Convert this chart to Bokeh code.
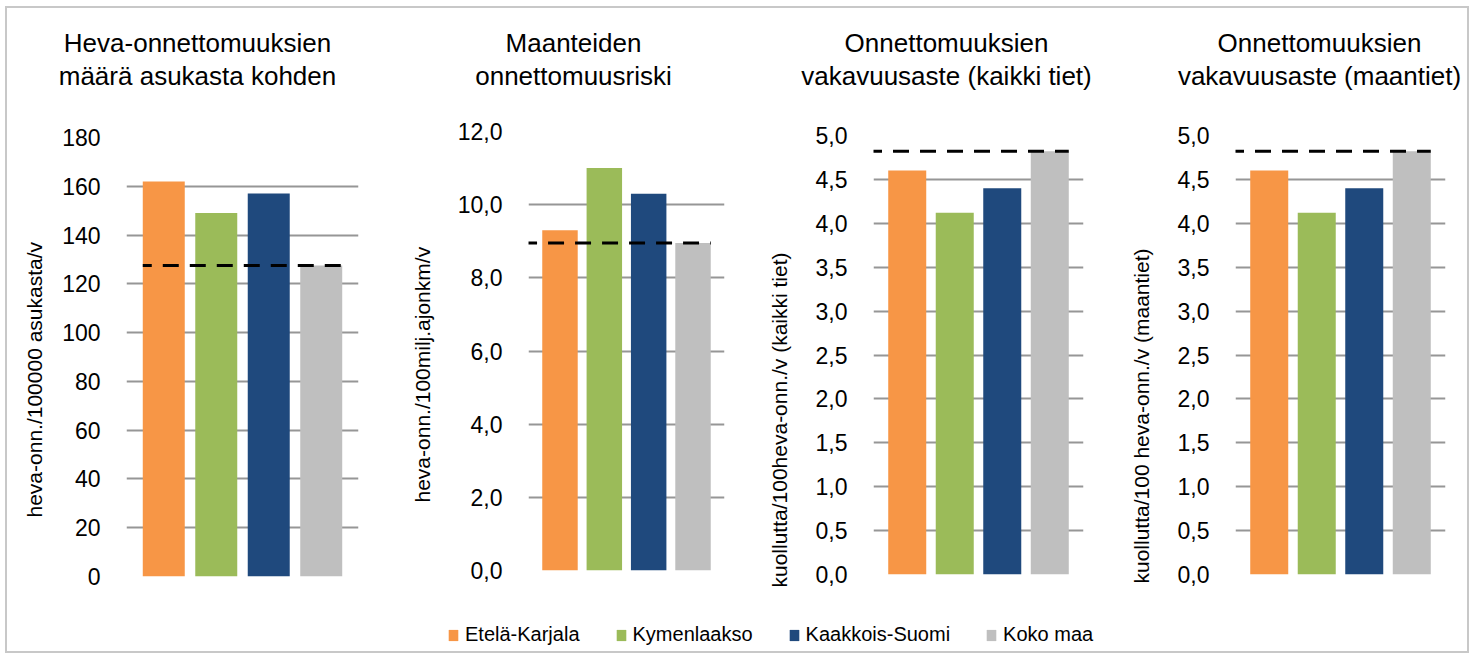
from bokeh.plotting import figure
from bokeh.models import Range1d, FixedTicker, Title, Label, Legend, LegendItem, ColumnDataSource
from bokeh.layouts import row, column
from bokeh.embed import file_html
from bokeh.resources import INLINE

# ---------------- data ----------------
regions = ["Etelä-Karjala", "Kymenlaakso", "Kaakkois-Suomi", "Koko maa"]

heva_per_asukas = [162, 149, 157, 127.5]
riski_maantiet = [9.3, 11.0, 10.3, 8.95]
vakavuus_kaikki = [4.6, 4.12, 4.4, 4.82]
vakavuus_maantiet = [4.6, 4.12, 4.4, 4.82]

titles = [
    ["Heva-onnettomuuksien", "määrä asukasta kohden"],
    ["Maanteiden", "onnettomuusriski"],
    ["Onnettomuuksien", "vakavuusaste (kaikki tiet)"],
    ["Onnettomuuksien", "vakavuusaste (maantiet)"],
]
y_labels = [
    "heva-onn./100000 asukasta/v",
    "heva-onn./100milj.ajonkm/v",
    "kuollutta/100heva-onn./v (kaikki tiet)",
    "kuollutta/100 heva-onn./v (maantiet)",
]
ticks_1 = [0, 20, 40, 60, 80, 100, 120, 140, 160, 180]
tick_labels_1 = ["0", "20", "40", "60", "80", "100", "120", "140", "160", "180"]
ticks_2 = [0, 2, 4, 6, 8, 10, 12]
tick_labels_2 = ["0,0", "2,0", "4,0", "6,0", "8,0", "10,0", "12,0"]
ticks_3 = [0, 0.5, 1, 1.5, 2, 2.5, 3, 3.5, 4, 4.5, 5]
tick_labels_3 = ["0,0", "0,5", "1,0", "1,5", "2,0", "2,5", "3,0", "3,5", "4,0", "4,5", "5,0"]

# ---------------- style / layout ----------------
colors = ["#F79646", "#9BBB59", "#1F497D", "#BFBFBF"]
FONT = "Liberation Sans"
GRID_COLOR = "#969696"

TOTAL_W = 1460
STRIP_H = 100      # title strip
PANEL_H = 497
LEGEND_H = 46
title_centers = [190, 566, 939, 1312]   # px inside title strip
title_baselines = [34, 67]              # px from the strip top

geoms = [
    dict(w=373, bl=118, br=22, bt=29, bb=29, loff=59, ls=27, dx0=-0.40),
    dict(w=360, bl=148, br=16, bt=23, bb=35, loff=68, ls=41, dx0=-0.72),
    dict(w=360, bl=133, br=17, bt=27, bb=31, loff=-13, ls=43, dx0=-0.72),
    dict(w=367, bl=135, br=22, bt=27, bb=31, loff=-9, ls=43, dx0=-0.72),
]


def make_panel(vals, ymax, ticks, tick_labels, ylab, g):
    p = figure(width=g["w"], height=PANEL_H,
               x_range=Range1d(-0.71, 3.71), y_range=Range1d(0, ymax),
               output_backend="svg", toolbar_location=None,
               x_axis_location=None,
               min_border_left=g["bl"], min_border_right=g["br"],
               min_border_top=g["bt"], min_border_bottom=g["bb"])
    if "frame_align" in p.properties():
        p.frame_align = False
    p.outline_line_color = None
    p.xgrid.visible = False
    p.ygrid.ticker = FixedTicker(ticks=ticks)
    p.ygrid.grid_line_color = GRID_COLOR
    p.ygrid.grid_line_width = 2

    ax = p.yaxis[0]
    ax.ticker = FixedTicker(ticks=ticks)
    ax.major_label_overrides = {t: s for t, s in zip(ticks, tick_labels)}
    ax.axis_line_color = None
    ax.major_tick_line_color = None
    ax.minor_tick_line_color = None
    ax.major_tick_out = 0
    ax.major_tick_in = 0
    ax.major_label_standoff = 26
    ax.major_label_text_font = FONT
    ax.major_label_text_font_size = "23px"
    ax.major_label_text_color = "#000000"

    src = ColumnDataSource(dict(x=list(range(len(regions))), top=vals,
                                color=colors, region=regions))
    p.vbar(x="x", top="top", width=0.8, fill_color="color",
           line_color=None, source=src)

    ref = vals[-1]
    p.line(x=[g["dx0"], 3.4], y=[ref, ref], line_color="black",
           line_width=3, line_dash="16 11", line_dash_offset=7)

    # y axis title (rotated, on the left)
    p.add_layout(Title(text=ylab, align="left", offset=g["loff"],
                       vertical_align="bottom", standoff=g["ls"],
                       text_font=FONT, text_font_size="21px",
                       text_font_style="normal", text_color="#000000"), "left")
    return p


p1 = make_panel(heva_per_asukas, 180, ticks_1, tick_labels_1, y_labels[0], geoms[0])
p2 = make_panel(riski_maantiet, 12, ticks_2, tick_labels_2, y_labels[1], geoms[1])
p3 = make_panel(vakavuus_kaikki, 5, ticks_3, tick_labels_3, y_labels[2], geoms[2])
p4 = make_panel(vakavuus_maantiet, 5, ticks_3, tick_labels_3, y_labels[3], geoms[3])

# title strip
ts = figure(width=TOTAL_W, height=STRIP_H, x_range=Range1d(0, TOTAL_W),
            y_range=Range1d(0, STRIP_H), x_axis_location=None, y_axis_location=None,
            toolbar_location=None, output_backend="svg", min_border=0)
ts.outline_line_color = None
ts.grid.visible = False
for cx, lines in zip(title_centers, titles):
    for line, base in zip(lines, title_baselines):
        ts.add_layout(Label(x=cx, y=STRIP_H - base, text=line,
                            text_align="center", text_baseline="alphabetic",
                            text_font=FONT, text_font_size="26px",
                            text_color="#000000"))

# legend strip
lf = figure(width=TOTAL_W, height=LEGEND_H, x_range=Range1d(0, 1), y_range=Range1d(0, 1),
            x_axis_location=None, y_axis_location=None, toolbar_location=None,
            output_backend="svg", min_border=0)
lf.outline_line_color = None
lf.grid.visible = False
items = []
for name, c in zip(regions, colors):
    # drawn outside the visible range: only the legend swatch is shown
    r = lf.vbar(x=[10], top=[1], width=0.8, fill_color=c, line_color=None)
    items.append(LegendItem(label=name, renderers=[r]))
leg = Legend(items=items, orientation="horizontal", location=(440, 5),
             glyph_width=12, glyph_height=14, label_standoff=6, spacing=35,
             padding=0, margin=0, border_line_color=None, background_fill_alpha=0,
             label_text_font=FONT, label_text_font_size="20px",
             label_text_color="#000000")
lf.add_layout(leg)

layout = column(ts, row(p1, p2, p3, p4), lf,
                styles={"border": "2px solid #c8c8c8", "margin-left": "5px",
                        "margin-top": "6px"})

open("out.html", "w").write(file_html(layout, INLINE))
